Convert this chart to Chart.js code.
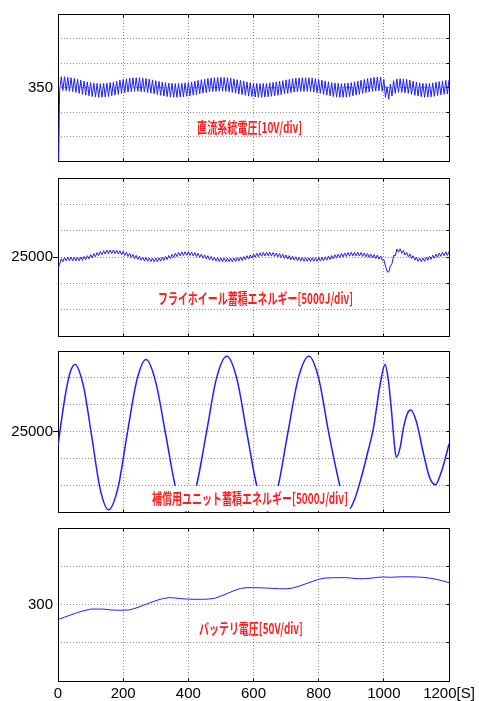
<!DOCTYPE html>
<html>
<head>
<meta charset="utf-8">
<script src="https://cdn.jsdelivr.net/npm/chart.js@4.4.1/dist/chart.umd.min.js"></script>
<style>
  html, body { margin: 0; padding: 0; background: #fff; }
  body { width: 479px; height: 701px; position: relative; overflow: hidden; }
  canvas { position: absolute; left: 0; }
</style>
</head>
<body>
<canvas id="dc" width="479" height="165" style="top:5px"></canvas>
<canvas id="fly" width="479" height="176" style="top:169px"></canvas>
<canvas id="comp" width="479" height="179" style="top:342px"></canvas>
<canvas id="batt" width="479" height="182" style="top:519px"></canvas>
<script>
// time axis [s]
const xTicks = [0, 200, 400, 600, 800, 1000, 1200];

// DC bus voltage [V], one sample every 5 s
const RIPPLE_DT = 5;
const dcVoltage = [
  300, 348.8, 354.4, 348.8, 354.4, 348.7, 354.2, 348.5, 354.0, 348.3, 353.7, 348.0, 353.4, 347.6, 353.0, 347.2, 352.6, 346.9, 352.3, 346.6,
  352.0, 346.3, 351.8, 346.1, 351.7, 346.0, 351.6, 346.0, 351.7, 346.1, 351.8, 346.3, 352.0, 346.6, 352.3, 346.9, 352.6, 347.2, 353.0, 347.6,
  353.3, 347.9, 353.6, 348.1, 353.8, 348.3, 354.0, 348.4, 354.0, 348.4, 354.0, 348.3, 353.9, 348.2, 353.7, 347.9, 353.4, 347.7, 353.1, 347.4,
  352.8, 347.1, 352.5, 346.8, 352.2, 346.5, 352.0, 346.3, 351.8, 346.1, 351.7, 346.0, 351.6, 346.0, 351.7, 346.1, 351.7, 346.2, 351.9, 346.4,
  352.1, 346.6, 352.3, 346.9, 352.6, 347.1, 352.9, 347.4, 353.2, 347.7, 353.4, 347.9, 353.7, 348.2, 353.9, 348.3, 354.0, 348.4, 354.1, 348.5,
  354.1, 348.5, 354.1, 348.4, 354.0, 348.3, 353.8, 348.0, 353.5, 347.7, 353.2, 347.4, 352.9, 347.1, 352.6, 346.8, 352.3, 346.5, 352.0, 346.3,
  351.8, 346.1, 351.7, 346.0, 351.6, 346.0, 351.7, 346.1, 351.7, 346.2, 351.9, 346.4, 352.1, 346.6, 352.3, 346.8, 352.6, 347.1, 352.8, 347.4,
  353.1, 347.6, 353.3, 347.9, 353.6, 348.1, 353.8, 348.2, 353.9, 348.4, 354.0, 348.4, 354.0, 348.4, 354.0, 348.3, 353.8, 348.1, 353.6, 347.9,
  353.3, 347.6, 353.0, 347.2, 352.7, 346.9, 352.3, 346.6, 352.0, 346.3, 351.8, 346.1, 351.7, 346.0, 351.6, 346.0, 351.7, 346.1, 351.8, 346.3,
  352.0, 346.6, 352.3, 346.9, 352.6, 347.2, 353.0, 347.6, 353.3, 347.9, 353.7, 348.2, 353.9, 348.4, 354.1, 348.6, 354.3, 348.7, 354.3, 348.5,
  353.3, 346.0, 350.4, 345.2, 351.4, 346.5, 352.8, 347.6, 353.5, 348.0, 353.6, 348.0, 353.5, 347.8, 353.3, 347.6, 353.0, 347.2, 352.6, 346.8,
  352.2, 346.5, 351.9, 346.2, 351.7, 346.0, 351.6, 346.1, 351.7, 346.2, 351.9, 346.4, 352.2, 346.7, 352.4, 347.0, 352.7, 347.2, 352.9, 347.4,
  353.1
];

// flywheel stored energy [J], one sample every 5 s
const flywheelEnergy = [
  22800, 23600, 24650, 24100, 24950, 24280, 25000, 24300, 25000, 24280, 24950, 24250, 24950, 24280, 25000, 24350, 25100, 24480, 25250, 24650,
  25450, 24850, 25650, 25050, 25850, 25250, 26050, 25430, 26200, 25550, 26300, 25630, 26350, 25650, 26350, 25630, 26300, 25550, 26200, 25430,
  26050, 25280, 25900, 25100, 25700, 24900, 25500, 24700, 25300, 24530, 25150, 24380, 25000, 24250, 24900, 24170, 24830, 24120, 24800, 24100,
  24800, 24130, 24850, 24200, 24950, 24330, 25100, 24500, 25300, 24700, 25500, 24900, 25700, 25080, 25850, 25200, 25950, 25280, 26000, 25300,
  26000, 25280, 25950, 25200, 25850, 25080, 25700, 24930, 25550, 24780, 25400, 24630, 25250, 24480, 25100, 24340, 24970, 24220, 24870, 24140,
  24810, 24100, 24780, 24080, 24770, 24080, 24780, 24100, 24810, 24140, 24870, 24220, 24970, 24340, 25100, 24480, 25250, 24630, 25400, 24780,
  25550, 24930, 25700, 25050, 25800, 25140, 25880, 25200, 25910, 25210, 25900, 25180, 25850, 25110, 25770, 25010, 25650, 24890, 25520, 24750,
  25380, 24620, 25250, 24490, 25130, 24380, 25030, 24290, 24950, 24230, 24900, 24190, 24870, 24170, 24860, 24160, 24860, 24170, 24870, 24190,
  24900, 24230, 24950, 24290, 25030, 24390, 25150, 24520, 25280, 24650, 25420, 24790, 25550, 24910, 25670, 25020, 25770, 25110, 25850, 25180,
  25900, 25210, 25910, 25210, 25900, 25180, 25850, 25110, 25770, 25020, 25670, 24910, 25550, 24800, 25450, 24700, 25350, 24580, 25200, 24400,
  24500, 23300, 22300, 22100, 23300, 23700, 25300, 25200, 26500, 25900, 26550, 25700, 26250, 25380, 25900, 25050, 25600, 24730, 25250, 24400,
  24950, 24180, 24800, 24100, 24800, 24180, 24950, 24350, 25150, 24550, 25350, 24750, 25550, 24950, 25750, 25130, 25900, 25250, 26000, 25300,
  26000
];

// compensation unit stored energy [J]
const compTime = [0, 13, 26, 39, 52, 78, 104, 129, 155, 184, 212, 241, 270, 300, 331, 362, 392, 423, 455, 486,
  518, 549, 580, 612, 643, 674, 705, 737, 770, 800, 831, 864, 880, 892, 910, 932, 950, 968, 989, 1004,
  1014, 1024, 1031, 1038, 1050, 1060, 1072, 1083, 1100, 1122, 1140, 1158, 1175, 1190, 1200];
const compEnergy = [22300, 28100, 33000, 36300, 37500, 33500, 23900, 14400, 10400, 14500, 24400, 34300, 38400, 34200, 24300, 14300, 10200, 14400, 24600, 34800,
  39000, 34800, 24600, 14400, 10200, 14400, 24600, 34800, 39000, 34900, 24700, 15100, 11200, 10400, 12300, 16700, 21000, 25600, 33900, 37500,
  34500, 28500, 23500, 20200, 22000, 25600, 28300, 29000, 26800, 20800, 16500, 15100, 17200, 20300, 22700];

// battery voltage [V], one sample every 20 s
const BATT_DT = 20;
const batteryVoltage = [
  280.4, 283.5, 286.5, 289.5, 292, 294, 294, 294, 293, 292.5, 292.5, 293, 295.5, 298.5, 302, 305, 307.5, 309, 308.5, 307.5,
  307, 306.8, 306.8, 307, 308, 311, 314.5, 318, 321, 322, 322, 321.8, 321.5, 321, 320.6, 320.5, 321.5, 324, 327, 330,
  333, 334.5, 335, 335, 335.2, 334.5, 333.8, 333.8, 334.3, 335.5, 336, 335.5, 336, 336.2, 336.2, 336, 335.5, 334.5, 333, 331,
  328.6
];

const BLUE = 'rgb(30,30,255)';
const RED = '#ff1e1e';
const GRID = 'rgba(0,0,0,0.45)';

function align(p) { return Math.round(p - 0.5) + 0.5; }

// black box round the plot area plus short inner ticks, matlab style
const framePlugin = {
  id: 'frame',
  beforeDatasetsDraw(chart) {
    const { ctx, chartArea: a, scales } = chart;
    const l = align(a.left), r = align(a.right), t = align(a.top), b = align(a.bottom);
    ctx.save();
    ctx.strokeStyle = '#000';
    ctx.lineWidth = 1;
    ctx.beginPath();
    scales.x.ticks.forEach(tk => {
      const px = align(scales.x.getPixelForValue(tk.value));
      ctx.moveTo(px, t); ctx.lineTo(px, t + 3);
      ctx.moveTo(px, b); ctx.lineTo(px, b - 3);
    });
    scales.y.ticks.forEach(tk => {
      const py = align(scales.y.getPixelForValue(tk.value));
      ctx.moveTo(r, py); ctx.lineTo(r - 3, py);
    });
    ctx.stroke();
    ctx.strokeRect(l, t, r - l, b - t);
    ctx.restore();
  }
};

// red caption in a white box
const labelPlugin = {
  id: 'panelLabel',
  afterDatasetsDraw(chart, args, opts) {
    const { ctx, chartArea, scales: { x, y } } = chart;
    const cx = x.getPixelForValue(opts.at[0]);
    const cy = y.getPixelForValue(opts.at[1]);
    const top = cy - (opts.half || 9);
    const bottom = opts.toBottom ? chartArea.bottom - 1 : cy + (opts.half || 9);
    ctx.save();
    ctx.fillStyle = '#fff';
    ctx.fillRect(cx - opts.width / 2 - 2, top, opts.width + 4, bottom - top);
    ctx.font = 'bold 15px "Noto Sans CJK JP"';
    const tw = ctx.measureText(opts.text).width;
    ctx.translate(cx, cy);
    ctx.scale(opts.width / tw, 1);
    ctx.fillStyle = RED;
    ctx.textAlign = 'center';
    ctx.textBaseline = 'middle';
    ctx.fillText(opts.text, 0, 1);
    ctx.restore();
  }
};

function makePanel(id, cfg) {
  new Chart(document.getElementById(id), {
    type: 'line',
    data: {
      datasets: [{
        data: cfg.points,
        borderColor: BLUE,
        borderWidth: cfg.lineWidth || 1,
        pointRadius: 0,
        tension: 0,
        cubicInterpolationMode: cfg.smooth ? 'monotone' : 'default'
      }]
    },
    options: {
      responsive: false,
      animation: false,
      events: [],
      layout: { autoPadding: false, padding: { left: 0, right: 30, top: 6, bottom: cfg.showX ? 0 : 6 } },
      plugins: {
        legend: { display: false },
        tooltip: { enabled: false },
        panelLabel: cfg.label
      },
      scales: {
        x: {
          type: 'linear',
          min: 0,
          max: 1200,
          afterBuildTicks: s => { s.ticks = xTicks.map(v => ({ value: v })); },
          ticks: {
            display: !!cfg.showX,
            padding: 4,
            maxRotation: 0,
            color: '#000',
            font: { family: '"Liberation Sans", Arial, sans-serif', size: 15 },
            callback: v => v === 1200 ? '1200[S]' : String(v)
          },
          grid: { color: GRID, lineWidth: 1, drawTicks: false },
          border: { display: false, dash: [1, 2] },
          afterFit: s => { s.height = cfg.showX ? 20 : 0; }
        },
        y: {
          min: cfg.yMin,
          max: cfg.yMax,
          ticks: {
            stepSize: cfg.yStep,
            padding: 0,
            color: '#000',
            font: { family: '"Liberation Sans", Arial, sans-serif', size: 15 },
            callback: v => v === cfg.center ? String(v) : ''
          },
          grid: {
            color: GRID,
            lineWidth: 1,
            tickLength: 5,
            tickColor: c => (cfg.tickMark && c.tick && c.tick.value === cfg.center) ? '#000' : 'rgba(0,0,0,0)'
          },
          border: { display: false, dash: [1, 2] },
          afterFit: s => { s.width = 58; }
        }
      }
    },
    plugins: [framePlugin, labelPlugin]
  });
}

window.onload = function() {
  makePanel('dc', {
    points: dcVoltage.map((v, i) => ({ x: i * RIPPLE_DT, y: v })),
    yMin: 320, yMax: 380, yStep: 10, center: 350,
    label: { text: '直流系統電圧[10V/div]', at: [588, 334.1], width: 105 }
  });
  makePanel('fly', {
    points: flywheelEnergy.map((v, i) => ({ x: i * RIPPLE_DT, y: v })),
    yMin: 10000, yMax: 40000, yStep: 5000, center: 25000, tickMark: true,
    label: { text: 'フライホイール蓄積エネルギー[5000J/div]', at: [606, 17320], width: 195 }
  });
  makePanel('comp', {
    points: compTime.map((t, i) => ({ x: t, y: compEnergy[i] })),
    lineWidth: 1.5, smooth: true,
    yMin: 10000, yMax: 40000, yStep: 5000, center: 25000, tickMark: true,
    label: { text: '補償用ユニット蓄積エネルギー[5000J/div]', at: [589, 12700], width: 196, half: 11.5, toBottom: true }
  });
  makePanel('batt', {
    points: batteryVoltage.map((v, i) => ({ x: i * BATT_DT, y: v })),
    yMin: 200, yMax: 400, yStep: 50, center: 300, showX: true,
    label: { text: 'バッテリ電圧[50V/div]', at: [592, 270.5], width: 104 }
  });
};
</script>
</body>
</html>
